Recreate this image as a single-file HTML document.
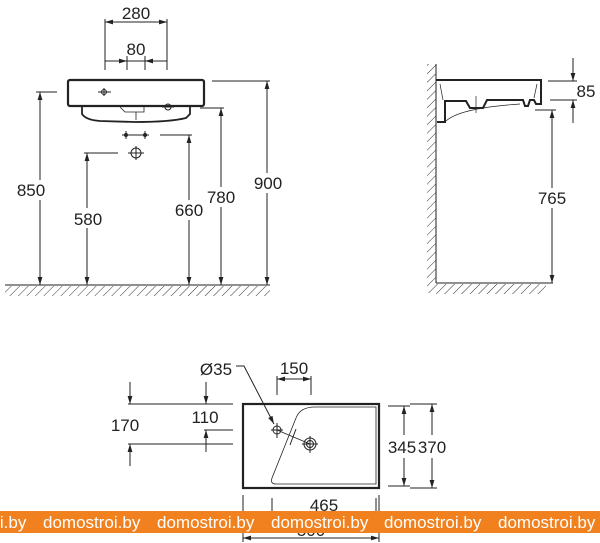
<!DOCTYPE html>
<html><head><meta charset="utf-8"><style>
html,body{margin:0;padding:0;background:#fff}
svg{display:block}
text{font-family:"Liberation Sans",sans-serif;font-size:17px;fill:#222}
</style></head><body>
<svg width="600" height="543" viewBox="0 0 600 543" xmlns="http://www.w3.org/2000/svg">
<defs>
<marker id="a" viewBox="0 0 10 6" refX="10" refY="3" markerWidth="8" markerHeight="5" orient="auto-start-reverse"><path d="M0,0L10,3L0,6z" fill="#222"/></marker>
<pattern id="h" width="6" height="6" patternUnits="userSpaceOnUse" patternTransform="rotate(45)"><line x1="0" y1="0" x2="0" y2="6" stroke="#333" stroke-width="1"/></pattern>
</defs>
<g stroke="#222" stroke-width="1" fill="none">
<rect x="68" y="80" width="136" height="26" rx="2" stroke-width="2.2"/>
<path d="M82,107 L82,114 Q86,120 100,121 L135,122 Q170,122 186,118 L190,114 L190,107" stroke-width="1.8"/>
<path d="M120,107 L125,112 L144,112 L144,107" stroke-width="0.8"/>
<line x1="136" y1="112" x2="136" y2="120" stroke-width="0.8"/>
<circle cx="168" cy="107" r="3"/><line x1="162" y1="107" x2="174" y2="107"/>
<circle cx="104" cy="92" r="2.5"/><line x1="98" y1="92" x2="111" y2="92"/><line x1="104" y1="88" x2="104" y2="96"/>
<line x1="105" y1="19" x2="105" y2="70"/><line x1="167" y1="19" x2="167" y2="70"/>
<line x1="105" y1="22" x2="167" y2="22" marker-start="url(#a)" marker-end="url(#a)"/>
<line x1="127" y1="56" x2="127" y2="70"/><line x1="145" y1="56" x2="145" y2="70"/>
<line x1="105" y1="61" x2="127" y2="61" marker-end="url(#a)"/><line x1="167" y1="61" x2="145" y2="61" marker-end="url(#a)"/>
<line x1="127" y1="61" x2="145" y2="61"/>
<line x1="122" y1="135" x2="149" y2="135"/><circle cx="126" cy="135" r="1.5" fill="#222"/><circle cx="145" cy="135" r="1.5" fill="#222"/>
<line x1="126" y1="131" x2="126" y2="139"/><line x1="145" y1="131" x2="145" y2="139"/>
<circle cx="136" cy="153" r="5"/><line x1="128" y1="153" x2="144" y2="153"/><line x1="136" y1="146" x2="136" y2="160"/>
<line x1="36" y1="92" x2="57" y2="92"/>
<line x1="40" y1="92" x2="40" y2="180" marker-start="url(#a)"/><line x1="40" y1="200" x2="40" y2="285" marker-end="url(#a)"/>
<line x1="84" y1="153" x2="118" y2="153"/>
<line x1="87" y1="153" x2="87" y2="208" marker-start="url(#a)"/><line x1="87" y1="228" x2="87" y2="285" marker-end="url(#a)"/>
<line x1="160" y1="135" x2="192" y2="135"/>
<line x1="189" y1="135" x2="189" y2="200" marker-start="url(#a)"/><line x1="189" y1="220" x2="189" y2="285" marker-end="url(#a)"/>
<line x1="200" y1="108" x2="224" y2="108"/>
<line x1="221" y1="108" x2="221" y2="187" marker-start="url(#a)"/><line x1="221" y1="207" x2="221" y2="285" marker-end="url(#a)"/>
<line x1="212" y1="81" x2="270" y2="81"/>
<line x1="267" y1="81" x2="267" y2="173" marker-start="url(#a)"/><line x1="267" y1="193" x2="267" y2="285" marker-end="url(#a)"/>
<line x1="5" y1="285" x2="270" y2="285"/>
<rect x="5" y="286" width="265" height="10" fill="url(#h)" stroke="none"/>

<line x1="436" y1="64" x2="436" y2="283"/>
<rect x="427" y="64" width="9" height="229" fill="url(#h)" stroke="none"/>
<line x1="436" y1="283" x2="553" y2="283"/>
<rect x="436" y="284" width="110" height="10" fill="url(#h)" stroke="none"/>
<path d="M436,80 L541,80 L541,104 L536,104 L534,100 L530,100 L528,106 L525,106 L523,100 L487,100 L483,108 L470,108 L466,101 L445,101 L445,122 L437,122" stroke-width="2"/>
<path d="M440,84 L443,100 M537,84 L534,98" stroke-width="0.7"/>
<path d="M446,121 Q460,108 520,104" stroke-width="0.7"/>
<line x1="476" y1="96" x2="476" y2="113" stroke-width="0.7"/>
<line x1="548" y1="81" x2="577" y2="81"/><line x1="550" y1="100" x2="577" y2="100"/>
<line x1="573" y1="58" x2="573" y2="81" marker-end="url(#a)"/><line x1="573" y1="123" x2="573" y2="100" marker-end="url(#a)"/>
<line x1="535" y1="110" x2="556" y2="110"/>
<line x1="552" y1="110" x2="552" y2="188" marker-start="url(#a)"/><line x1="552" y1="208" x2="552" y2="283" marker-end="url(#a)"/>

<rect x="243" y="404" width="136" height="84" stroke-width="2.2"/>
<path d="M376,407 L376,484 L276,484 Q270,484 272,478 L296,418 Q300,407 315,407 Z" stroke-width="0.8"/>
<circle cx="277" cy="430" r="4"/><line x1="271" y1="430" x2="283" y2="430"/><line x1="277" y1="423" x2="277" y2="438"/>
<circle cx="310" cy="444" r="6"/><circle cx="310" cy="444" r="3.5"/><line x1="302" y1="444" x2="318" y2="444"/><line x1="310" y1="436" x2="310" y2="453"/>
<line x1="277" y1="430" x2="310" y2="444" stroke-width="0.8"/>
<line x1="296" y1="429" x2="290" y2="445"/>
<path d="M236,366 L244,366 L274,424" marker-end="url(#a)"/>
<line x1="277" y1="376" x2="277" y2="395"/><line x1="311" y1="376" x2="311" y2="395"/>
<line x1="277" y1="379" x2="311" y2="379" marker-start="url(#a)" marker-end="url(#a)"/>
<line x1="128" y1="404" x2="233" y2="404"/><line x1="128" y1="444" x2="233" y2="444"/>
<line x1="130" y1="382" x2="130" y2="404" marker-end="url(#a)"/><line x1="130" y1="466" x2="130" y2="444" marker-end="url(#a)"/>
<line x1="204" y1="430" x2="233" y2="430"/>
<line x1="206" y1="382" x2="206" y2="404" marker-end="url(#a)"/><line x1="206" y1="452" x2="206" y2="430" marker-end="url(#a)"/>
<line x1="388" y1="406" x2="410" y2="406"/><line x1="388" y1="486" x2="410" y2="486"/>
<line x1="404" y1="435" x2="404" y2="406" marker-end="url(#a)"/><line x1="404" y1="458" x2="404" y2="486" marker-end="url(#a)"/>
<line x1="410" y1="404" x2="437" y2="404"/><line x1="410" y1="488" x2="437" y2="488"/>
<line x1="432" y1="435" x2="432" y2="404" marker-end="url(#a)"/><line x1="432" y1="458" x2="432" y2="488" marker-end="url(#a)"/>
<line x1="272" y1="498" x2="272" y2="520"/><line x1="376" y1="498" x2="376" y2="520"/>
<line x1="243" y1="495" x2="243" y2="542"/><line x1="379" y1="495" x2="379" y2="542"/>
<line x1="243" y1="538" x2="379" y2="538" marker-start="url(#a)" marker-end="url(#a)"/>
</g>
<g text-anchor="middle">
<text x="136" y="19">280</text>
<text x="136" y="55">80</text>
<text x="31" y="196">850</text>
<text x="88" y="225">580</text>
<text x="189" y="216">660</text>
<text x="221" y="203">780</text>
<text x="268" y="189">900</text>
<text x="586" y="97">85</text>
<text x="552" y="204">765</text>
<text x="216" y="375">Ø35</text>
<text x="294" y="374">150</text>
<text x="125" y="431">170</text>
<text x="205" y="423">110</text>
<text x="402" y="453">345</text>
<text x="432" y="453">370</text>
<text x="324" y="511">465</text>
<text x="311" y="536">500</text>
</g>
<rect x="0" y="511" width="600" height="22" fill="#f0811e"/>
<g>
<text x="-71" y="528" style="fill:#fff;font-size:17px">domostroi.by</text>
<text x="43" y="528" style="fill:#fff;font-size:17px">domostroi.by</text>
<text x="157" y="528" style="fill:#fff;font-size:17px">domostroi.by</text>
<text x="271" y="528" style="fill:#fff;font-size:17px">domostroi.by</text>
<text x="384" y="528" style="fill:#fff;font-size:17px">domostroi.by</text>
<text x="498" y="528" style="fill:#fff;font-size:17px">domostroi.by</text>
</g>
</svg>
</body></html>
